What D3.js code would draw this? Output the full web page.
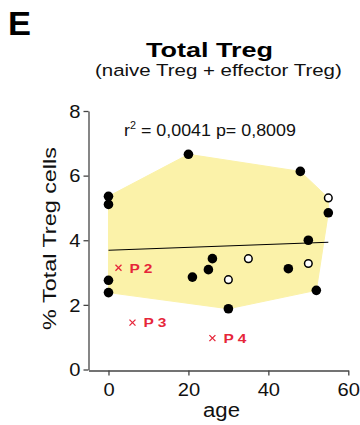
<!DOCTYPE html>
<html><head><meta charset="utf-8">
<script src="https://cdn.jsdelivr.net/npm/d3@7"></script>
<style>html,body{margin:0;padding:0;background:#fff;}svg{display:block;}</style>
</head><body>
<svg id="chart" width="360" height="425"></svg>
<script>
// ---- data ----
const ageFilled = [0, 0, 20, 48, 55, 50, 0, 0, 21, 25, 26, 30, 45, 52];
const valFilled = [5.36, 5.11, 6.66, 6.13, 4.85, 4.00, 2.76, 2.38, 2.86, 3.09, 3.43, 1.88, 3.12, 2.45];
const ageOpen = [55, 30, 35, 50];
const valOpen = [5.31, 2.78, 3.43, 3.28];
const patientLabels = ["P 2", "P 3", "P 4"];
const agePatient = [2.5, 6, 26];
const valPatient = [3.15, 1.45, 0.97];
const regAge = [0, 55];
const regVal = [3.69, 3.94];
const xTicks = [0, 20, 40, 60];
const yTicks = [0, 2, 4, 6, 8];
const panelLetter = "E";
const titleText = "Total Treg";
const subtitleText = "(naive Treg + effector Treg)";
const xLabel = "age";
const yLabel = "% Total Treg cells";

// ---- layout ----
const FONT = "'Liberation Sans', Arial, Helvetica, sans-serif";
const svg = d3.select("#chart");
const x = d3.scaleLinear().domain([-5, 60]).range([88.5, 348.3]);
const y = d3.scaleLinear().domain([0, 8]).range([369.5, 111]);
const axisColor = "#444";

function fitText(sel, width) {
  const w = sel.node().getComputedTextLength();
  return w > 0 ? width / w : 1;
}

// hull
const pts = ageFilled.map((a, i) => [x(a), y(valFilled[i])])
  .concat(ageOpen.map((a, i) => [x(a), y(valOpen[i])]));
const hull = d3.polygonHull(pts);
svg.append("path")
  .attr("d", "M" + hull.join("L") + "Z")
  .attr("fill", "#fbf2a9")
  .attr("stroke", "#fbf2a9")
  .attr("stroke-width", 1);

// regression line
svg.append("line")
  .attr("x1", x(regAge[0])).attr("y1", y(regVal[0]))
  .attr("x2", x(regAge[1])).attr("y2", y(regVal[1]))
  .attr("stroke", "#000").attr("stroke-width", 1.1);

// axes
const yAxis = svg.append("g").attr("transform", `translate(${x(-5)},0)`)
  .call(d3.axisLeft(y).tickValues(yTicks).tickSize(5).tickSizeOuter(0).tickFormat(d3.format("d")));
const xAxis = svg.append("g").attr("transform", `translate(0,${y(0) + 1})`)
  .call(d3.axisBottom(x).tickValues(xTicks).tickSize(5).tickSizeOuter(0).tickFormat(d3.format("d")));
[yAxis, xAxis].forEach(g => {
  g.select(".domain").attr("stroke", axisColor).attr("stroke-width", 1.3);
  g.selectAll(".tick line").attr("stroke", axisColor).attr("stroke-width", 1.3);
  g.selectAll(".tick text").attr("font-family", FONT).attr("font-size", 18).attr("fill", "#111");
});
yAxis.selectAll(".tick text").attr("x", 0).attr("dy", null).attr("dominant-baseline", null)
  .attr("transform", "translate(-8,6.3) scale(1.12,1)");
xAxis.selectAll(".tick text").attr("y", 0).attr("dy", null)
  .attr("transform", "translate(0,25.5) scale(1.12,1)");

// filled points
svg.append("g").selectAll("circle").data(ageFilled).join("circle")
  .attr("cx", d => x(d)).attr("cy", (d, i) => y(valFilled[i]))
  .attr("r", 4.8).attr("fill", "#000");
// open points
svg.append("g").selectAll("circle").data(ageOpen).join("circle")
  .attr("cx", d => x(d)).attr("cy", (d, i) => y(valOpen[i]))
  .attr("r", 3.8).attr("fill", "#fff").attr("stroke", "#000").attr("stroke-width", 1.5);

// patients
const red = "#e6263a";
const pg = svg.append("g");
patientLabels.forEach((lab, i) => {
  const cx = x(agePatient[i]), cy = y(valPatient[i]);
  pg.append("path")
    .attr("d", `M${cx - 3},${cy - 3}L${cx + 3},${cy + 3}M${cx - 3},${cy + 3}L${cx + 3},${cy - 3}`)
    .attr("stroke", red).attr("stroke-width", 1.3);
  const t = pg.append("text").text(lab)
    .attr("font-family", FONT).attr("font-weight", "bold").attr("font-size", 13.5)
    .attr("fill", red);
  const s = fitText(t, 23);
  t.attr("transform", `translate(${cx + 11},${cy + 4.8}) scale(${s},1)`);
});

// r2 annotation
const ann = svg.append("text").attr("font-family", FONT).attr("font-size", 16.5).attr("fill", "#111");
ann.append("tspan").text("r");
ann.append("tspan").text("2").attr("font-size", 10).attr("dy", -7);
ann.append("tspan").text(" = 0,0041 p= 0,8009").attr("dy", 7);
{
  const w = ann.node().getBBox().width;
  ann.attr("transform", `translate(124,136) scale(${172 / w},1)`);
}

// titles
const eT = svg.append("text").text(panelLetter).attr("font-family", FONT)
  .attr("font-weight", "bold").attr("font-size", 33).attr("fill", "#000");
eT.attr("transform", `translate(8,35) scale(${fitText(eT, 23)},1)`);

const tT = svg.append("text").text(titleText).attr("font-family", FONT)
  .attr("font-weight", "bold").attr("font-size", 20).attr("fill", "#000");
tT.attr("transform", `translate(146,57) scale(${fitText(tT, 127)},1)`);

const sT = svg.append("text").text(subtitleText).attr("font-family", FONT)
  .attr("font-size", 17).attr("fill", "#111");
sT.attr("transform", `translate(95,76) scale(${fitText(sT, 247)},1)`);

// axis titles
const xl = svg.append("text").text(xLabel).attr("font-family", FONT)
  .attr("font-size", 21).attr("fill", "#111").attr("text-anchor", "middle");
xl.attr("transform", `translate(221.5,417) scale(${fitText(xl, 37)},1)`);

const yl = svg.append("text").text(yLabel).attr("font-family", FONT)
  .attr("font-size", 19).attr("fill", "#111").attr("text-anchor", "middle");
yl.attr("transform", `translate(56,238.5) rotate(-90) scale(${fitText(yl, 183)},1)`);
</script>
</body></html>
